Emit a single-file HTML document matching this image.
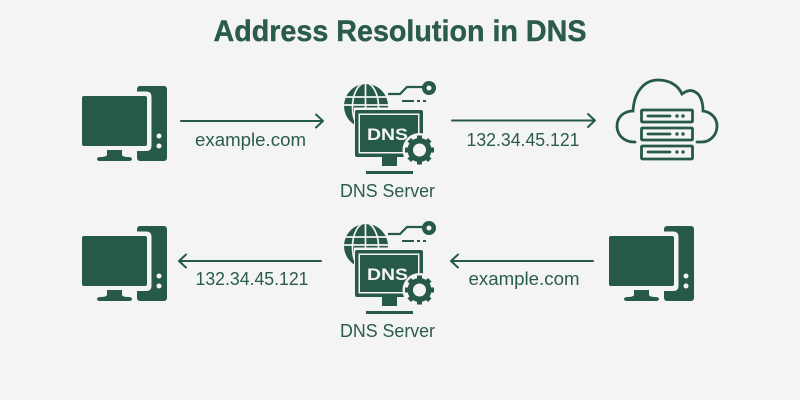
<!DOCTYPE html>
<html><head><meta charset="utf-8"><style>html,body{margin:0;padding:0;background:#f4f4f4}svg{display:block}text{font-family:"Liberation Sans",sans-serif;fill:#2a5b4c}</style></head>
<body>
<svg width="800" height="400" viewBox="0 0 800 400" xmlns="http://www.w3.org/2000/svg">
<defs>
<clipPath id="gc"><circle cx="366" cy="106" r="22"/></clipPath>
<g id="pc">
<rect x="137" y="86" width="30" height="75" rx="3" fill="#27594a"/>
<path d="M135 91.500H146Q151.500 91.500 151.500 97V146Q151.500 151 146 151H135Z" fill="#f4f4f4"/>
<rect x="82" y="96" width="65" height="50" rx="2" fill="#27594a"/>
<path d="M107 150H122V155Q123 157 128 157Q132 157 132 159Q132 161 129 161H100Q97 161 97 159Q97 157 101 157Q106 157 107 155Z" fill="#27594a"/>
<circle cx="159" cy="136" r="2.500" fill="#f4f4f4"/>
<circle cx="159" cy="146" r="2.500" fill="#f4f4f4"/>
</g>
<g id="dns">
<g clip-path="url(#gc)">
<rect x="344" y="83" width="44" height="46" fill="#27594a"/>
<path d="M340 97H392M340 105H392M365.500 80V112" stroke="#f4f4f4" stroke-width="1.700" fill="none"/>
<ellipse cx="365.500" cy="107" rx="13" ry="24" fill="none" stroke="#f4f4f4" stroke-width="1.700"/>
</g>
<rect x="354" y="107.500" width="40" height="25" fill="#f4f4f4"/>
<path d="M388 94H400L407 87H424" fill="none" stroke="#27594a" stroke-width="2.200"/>
<circle cx="429" cy="88" r="7" fill="#27594a"/><circle cx="429" cy="88" r="2.500" fill="#f4f4f4"/>
<path d="M402 101H414M417 101H420M423 101H426" stroke="#27594a" stroke-width="2"/>
<rect x="355" y="110" width="68" height="47" rx="2" fill="#27594a"/>
<rect x="358.500" y="113.500" width="61" height="40" fill="#f4f4f4"/>
<rect x="360" y="115" width="58" height="37" fill="#27594a"/>
<text x="367" y="140" font-size="17" font-weight="700" textLength="41" lengthAdjust="spacingAndGlyphs" style="fill:#f4f4f4">DNS</text>
<circle cx="419.500" cy="150" r="17" fill="#f4f4f4"/>
<g fill="#27594a">
<circle cx="419.500" cy="150" r="12"/>
<rect x="417" y="135.500" width="5" height="29"/>
<rect x="417" y="135.500" width="5" height="29" transform="rotate(45 419.500 150)"/>
<rect x="417" y="135.500" width="5" height="29" transform="rotate(90 419.500 150)"/>
<rect x="417" y="135.500" width="5" height="29" transform="rotate(135 419.500 150)"/>
</g>
<circle cx="419.500" cy="150" r="6.500" fill="#f4f4f4"/>
<path d="M382 157H397V166H382Z" fill="#27594a"/>
<rect x="366" y="171" width="47" height="3" fill="#27594a"/>
<text x="387.500" y="197" font-size="18" text-anchor="middle" textLength="95" lengthAdjust="spacingAndGlyphs">DNS Server</text>
</g>
</defs>
<rect width="800" height="400" fill="#f4f4f4"/>
<text x="400" y="41" font-size="29.500" font-weight="700" text-anchor="middle" textLength="373" lengthAdjust="spacingAndGlyphs" stroke="#2a5b4c" stroke-width="0.400">Address Resolution in DNS</text>
<use href="#pc"/>
<use href="#pc" y="140"/>
<use href="#pc" x="527" y="140"/>
<use href="#dns"/>
<use href="#dns" y="140"/>
<g fill="none" stroke="#27594a" stroke-width="2" stroke-linecap="round" stroke-linejoin="round">
<path d="M181 121H322.500M316 114.500L323 121L316 127.500"/>
<path d="M452 120.500H594.500M588 114L595 120.500L588 127"/>
<path d="M321 261H179M186 254.500L179 261L186 267.500"/>
<path d="M593 261H451M458 254.500L451 261L458 267.500"/>
</g>
<g font-size="18.500" text-anchor="middle">
<text x="250.500" y="146" textLength="111" lengthAdjust="spacingAndGlyphs">example.com</text>
<text x="523" y="146" textLength="113" lengthAdjust="spacingAndGlyphs">132.34.45.121</text>
<text x="252" y="285" textLength="113" lengthAdjust="spacingAndGlyphs">132.34.45.121</text>
<text x="524" y="285" textLength="111" lengthAdjust="spacingAndGlyphs">example.com</text>
</g>
<g fill="none" stroke="#27594a" stroke-width="2.800" stroke-linecap="round">
<path d="M635 142H634C624 142 617 135 617 126C617 117 624 111 633 111C634 91 645 80 658 80C669 80 678 85 682 94C686 91 690 90 693 91C700 93 703 101 703 111C711 112 717 118 717 126C717 135 710 142 702 142H697"/>
<rect x="641.500" y="110" width="51" height="12" rx="1"/>
<rect x="641.500" y="128" width="51" height="12" rx="1"/>
<rect x="641.500" y="146" width="51" height="13" rx="1"/>
<path d="M648 116H670M648 134H670M648 152H670"/>
</g>
<g fill="#27594a">
<circle cx="677" cy="116" r="1.700"/><circle cx="683" cy="116" r="1.700"/>
<circle cx="677" cy="134" r="1.700"/><circle cx="683" cy="134" r="1.700"/>
<circle cx="677" cy="152" r="1.700"/><circle cx="683" cy="152" r="1.700"/>
</g>
</svg>
</body></html>
